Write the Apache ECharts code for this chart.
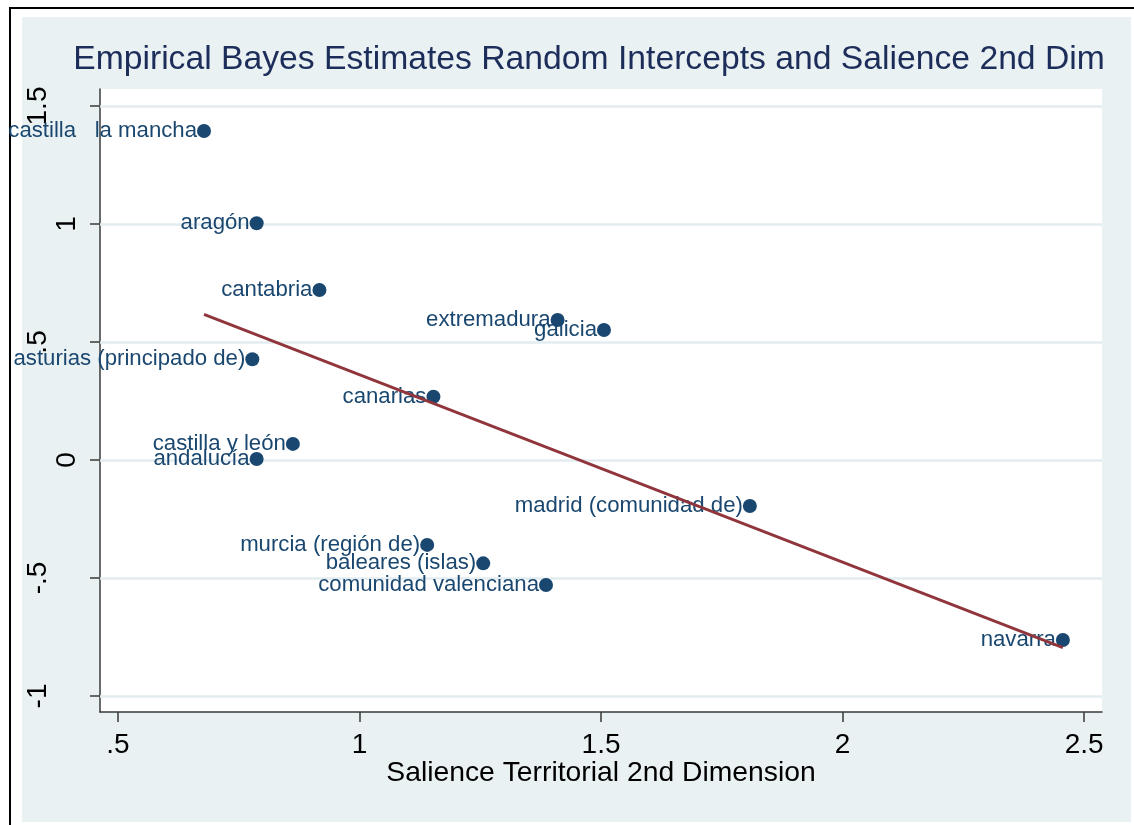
<!DOCTYPE html>
<html>
<head>
<meta charset="utf-8">
<script src="https://cdn.jsdelivr.net/npm/echarts@6/dist/echarts.min.js"></script>
<style>
  html, body { margin: 0; padding: 0; background: #ffffff; overflow: hidden; }
  #frame { position: absolute; left: 9px; top: 7px; width: 1300px; height: 1000px;
           border-left: 2px solid #000; border-top: 2px solid #000; }
  #region { position: absolute; left: 22px; top: 17px; width: 1109px; height: 805px; background: #eaf1f3; }
  #chart { position: absolute; left: 0; top: 0; width: 1134px; height: 825px; }
</style>
</head>
<body>
<div id="frame"></div>
<div id="region"></div>
<div id="chart"></div>
<script>
// Autonomous communities: territorial salience vs. empirical Bayes random intercepts
const regions = [
  'castilla   la mancha', 'aragón', 'cantabria', 'extremadura', 'galicia',
  'asturias (principado de)', 'canarias', 'castilla y león', 'andalucía',
  'madrid (comunidad de)', 'murcia (región de)', 'baleares (islas)',
  'comunidad valenciana', 'navarra'
];
const salience = [0.678, 0.787, 0.917, 1.410, 1.506, 0.778, 1.153, 0.862, 0.787, 1.808, 1.140, 1.256, 1.386, 2.456];
const intercepts = [1.394, 1.003, 0.720, 0.593, 0.551, 0.427, 0.268, 0.068, 0.004, -0.195, -0.360, -0.438, -0.530, -0.763];

// Linear fit endpoints
const fitX = [0.678, 2.456];
const fitY = [0.617, -0.795];

// Axis ticks
const xTicks = [0.5, 1, 1.5, 2, 2.5];
const yTicks = [-1, -0.5, 0, 0.5, 1, 1.5];

const FONT = '"Liberation Sans", Arial, Helvetica, sans-serif';
const NAVY = '#1a476f';

// Stata-style numbers: .5 instead of 0.5
function fmt(v) { return String(v).replace(/^(-?)0\./, '$1.'); }

const chart = echarts.init(document.getElementById('chart'), null, { renderer: 'canvas' });

chart.setOption({
  animation: false,
  textStyle: { fontFamily: FONT },
  title: {
    text: 'Empirical Bayes Estimates Random Intercepts and Salience 2nd Dim',
    left: 589,
    top: 43,
    padding: 0,
    textAlign: 'center',
    textStyle: { fontFamily: FONT, fontSize: 33.7, fontWeight: 'normal', color: '#1c2d5a' }
  },
  grid: {
    left: 100, top: 89, width: 1002, height: 623,
    show: true, backgroundColor: '#ffffff', borderWidth: 0,
    outerBoundsMode: 'none'
  },
  xAxis: {
    type: 'value',
    min: 0.4627, max: 2.537,
    name: 'Salience Territorial 2nd Dimension',
    nameLocation: 'middle',
    nameGap: 47,
    nameMoveOverlap: false,
    nameTextStyle: { fontFamily: FONT, fontSize: 28.3, color: '#000' },
    axisLine: { show: true, onZero: false, lineStyle: { color: '#3a3a3a', width: 1.5 } },
    axisTick: { show: true, customValues: xTicks, length: 10, lineStyle: { color: '#3a3a3a', width: 1.5 } },
    axisLabel: { customValues: xTicks, formatter: fmt, margin: 19, fontSize: 28, color: '#000', fontFamily: FONT },
    splitLine: { show: false }
  },
  yAxis: {
    type: 'value',
    min: -1.068, max: 1.572,
    axisLine: { show: true, onZero: false, lineStyle: { color: '#3a3a3a', width: 1.5 } },
    axisTick: { show: true, customValues: yTicks, length: 10, lineStyle: { color: '#3a3a3a', width: 1.5 } },
    axisLabel: {
      customValues: yTicks,
      rotate: 90,
      margin: 19,
      interval: 0,
      formatter: function (v) {
        const s = fmt(v);
        return (s.length > 1 ? '{far|' : '{near|') + s + '}';
      },
      rich: {
        near: { fontSize: 28, color: '#000', fontFamily: FONT },
        far: { fontSize: 28, color: '#000', fontFamily: FONT, padding: [0, 0, 29, 0] }
      }
    },
    splitLine: { show: false }
  },
  series: [
    {
      // horizontal grid lines at the y ticks
      type: 'line',
      data: [],
      silent: true,
      z: 1,
      markLine: {
        silent: true,
        symbol: 'none',
        z: 1,
        animation: false,
        label: { show: false },
        lineStyle: { color: '#e3edf0', width: 2.5, type: 'solid' },
        data: yTicks.map(v => ({ yAxis: v }))
      }
    },
    {
      type: 'scatter',
      z: 2,
      symbol: 'circle',
      symbolSize: 14,
      itemStyle: { color: NAVY, opacity: 1 },
      label: {
        show: true,
        position: 'left',
        distance: 0,
        formatter: '{b}',
        fontSize: 22.2,
        color: NAVY,
        fontFamily: FONT
      },
      labelLayout: { hideOverlap: false },
      data: regions.map((n, i) => ({ name: n, value: [salience[i], intercepts[i]] }))
    },
    {
      type: 'line',
      z: 3,
      showSymbol: false,
      symbol: 'none',
      lineStyle: { color: '#90353b', width: 2.8 },
      data: fitX.map((x, i) => [x, fitY[i]])
    }
  ]
});
</script>
</body>
</html>
